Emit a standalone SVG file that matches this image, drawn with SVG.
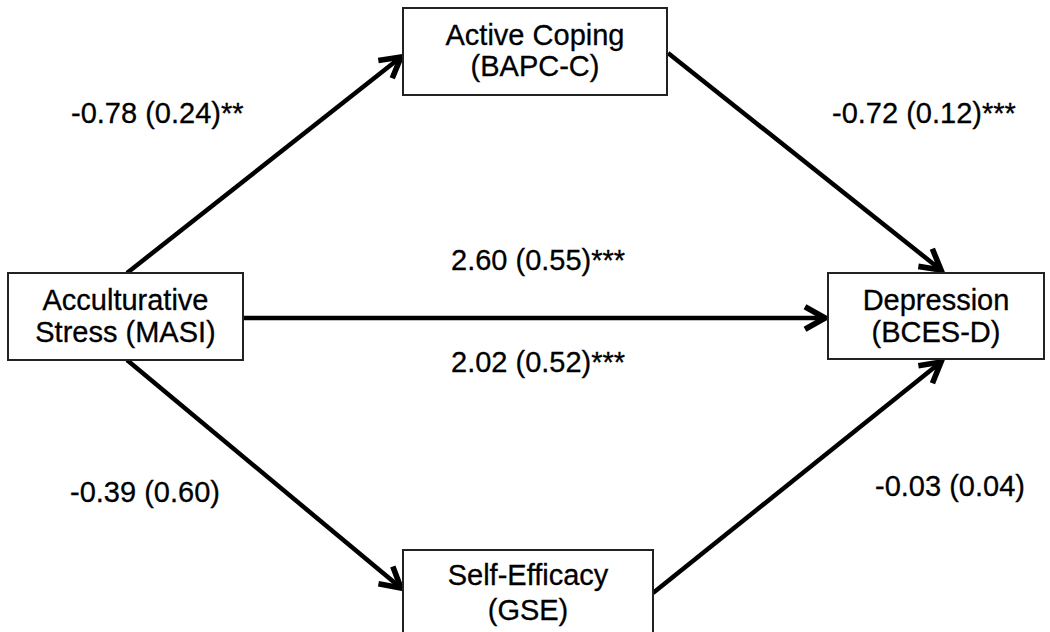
<svg xmlns="http://www.w3.org/2000/svg" width="1050" height="632" viewBox="0 0 1050 632">
<style>
.box{fill:#fff;stroke:#222;stroke-width:2}
.t{font-family:"Liberation Sans",Arial,sans-serif;font-size:29px;fill:#000;stroke:#000;stroke-width:0.3;text-anchor:middle}
.l{font-family:"Liberation Sans",Arial,sans-serif;font-size:29px;fill:#000;stroke:#000;stroke-width:0.3}
.c{stroke:#000;stroke-width:4.5;fill:none}
</style>
<defs>
<marker id="ah" markerUnits="userSpaceOnUse" markerWidth="30" markerHeight="30" viewBox="-20 -12 24 24" refX="0" refY="0" orient="auto">
<path d="M-16,-9 L0,0 L-16,9" fill="none" stroke="#000" stroke-width="4.5" stroke-linejoin="miter"/>
</marker>
</defs>
<rect width="1050" height="632" fill="#fff"/>
<g id="connectors">
<line class="c" x1="127" y1="273" x2="401" y2="57" marker-end="url(#ah)"/>
<line class="c" x1="668" y1="53" x2="941" y2="270" marker-end="url(#ah)"/>
<line class="c" x1="243" y1="318" x2="825" y2="318" marker-end="url(#ah)"/>
<line class="c" x1="127" y1="360" x2="401" y2="588" marker-end="url(#ah)"/>
<line class="c" x1="653" y1="593" x2="941" y2="362" marker-end="url(#ah)"/>
</g>
<g id="node-stress">
<rect class="box" x="8" y="273" width="235" height="87"/>
<text class="t" x="125.5" y="310">Acculturative</text>
<text class="t" x="125.5" y="342">Stress (MASI)</text>
</g>
<g id="node-coping">
<rect class="box" x="403" y="8" width="264" height="87"/>
<text class="t" x="535" y="45">Active Coping</text>
<text class="t" x="535" y="76">(BAPC-C)</text>
</g>
<g id="node-efficacy">
<rect class="box" x="403" y="550" width="250" height="100"/>
<text class="t" x="528" y="585">Self-Efficacy</text>
<text class="t" x="528" y="620">(GSE)</text>
</g>
<g id="node-depression">
<rect class="box" x="828" y="273" width="216" height="86"/>
<text class="t" x="936" y="310">Depression</text>
<text class="t" x="936" y="342">(BCES-D)</text>
</g>
<g id="labels">
<text class="l" x="71" y="123">-0.78 (0.24)**</text>
<text class="l" x="832" y="123">-0.72 (0.12)***</text>
<text class="l" x="451" y="270">2.60 (0.55)***</text>
<text class="l" x="451" y="372">2.02 (0.52)***</text>
<text class="l" x="70" y="502">-0.39 (0.60)</text>
<text class="l" x="875" y="496">-0.03 (0.04)</text>
</g>
</svg>
